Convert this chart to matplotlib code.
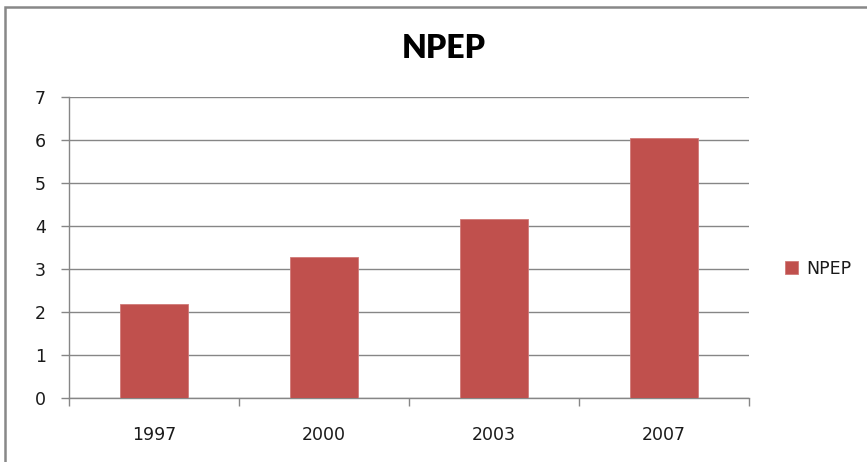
import matplotlib
matplotlib.use("Agg")
import matplotlib.pyplot as plt
from matplotlib.patches import Rectangle

categories = ["1997", "2000", "2003", "2007"]
values = [2.19, 3.27, 4.16, 6.04]
series_name = "NPEP"
yticks = [0, 1, 2, 3, 4, 5, 6, 7]

plt.rcParams['font.family'] = ['DejaVu Sans']

W, H = 867, 462
fig = plt.figure(figsize=(W/100, H/100), dpi=100)
ax = fig.add_axes([69/W, 1-398/H, (749-69)/W, (398-97)/H])

x = list(range(len(categories)))
ax.bar(x, values, width=0.4, color="#C0504D", edgecolor="#D07A78", linewidth=0.6,
       label=series_name, zorder=3)
ax.set_xlim(-0.5, len(categories)-0.5)
ax.set_ylim(0, 7)
ax.set_yticks(yticks)
ax.set_yticklabels([str(v) for v in yticks], fontsize=12.5, color="#1a1a1a")
ax.set_xticks(x)
ax.set_xticklabels(categories, fontsize=12.5, color="#1a1a1a")
ax.tick_params(axis='x', length=0, pad=20)
ax.set_xticks([i-0.5 for i in range(len(categories)+1)], minor=True)
ax.tick_params(axis='x', which='minor', length=6, color="#868686", width=1)
ax.tick_params(axis='y', length=6, color="#868686", width=1, pad=10.5)
ax.grid(axis='y', color="#868686", linewidth=1, zorder=0)
for s in ['top', 'right']:
    ax.spines[s].set_visible(False)
for s in ['left', 'bottom']:
    ax.spines[s].set_color("#868686")
    ax.spines[s].set_linewidth(1)

fig.text(443.5/W, 1-58/H, "NPEP", fontsize=23, fontweight='heavy', color="#000000",
         ha='center', va='baseline', family=['Lato', 'DejaVu Sans'])

ax.legend(loc='center left', bbox_to_anchor=(1.03, 0.43), frameon=False,
          fontsize=12.5, handlelength=0.75, handleheight=0.75, handletextpad=0.5,
          labelcolor="#1a1a1a")

fig.patches.append(Rectangle((5/W, -0.1), 1.2, 1-7/H+0.1, transform=fig.transFigure,
                             fill=False, edgecolor="#888888", linewidth=1.8))

fig.savefig("out.png", dpi=100)
